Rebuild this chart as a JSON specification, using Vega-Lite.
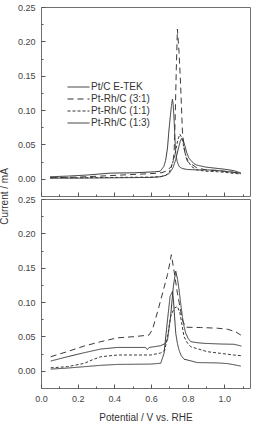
{
  "$schema": "https://vega.github.io/schema/vega-lite/v6.json",
  "padding": {"left": -2, "top": 2, "right": 5, "bottom": 0},
  "spacing": 3,
  "bounds": "flush",
  "config": {
    "font": "Liberation Sans",
    "view": {"stroke": "#707070", "strokeWidth": 1},
    "axis": {
      "domain": false, "grid": false, "labelOverlap": false, "tickCount": 50,
      "labelFont": "Liberation Sans", "labelFontSize": 9, "labelColor": "#444444",
      "tickColor": "#555555", "tickWidth": 1,
      "titleFont": "Liberation Sans", "titleFontSize": 10, "titleFontWeight": "normal", "titleColor": "#333333"
    },
    "legend": {
      "symbolType": "stroke", "symbolSize": 484, "symbolStrokeWidth": 1, "symbolStrokeColor": "#333333",
      "labelFont": "Liberation Sans", "labelFontSize": 10, "labelColor": "#333333", "labelOffset": 1,
      "padding": 0, "rowPadding": 2, "clipHeight": 10
    }
  },
  "datasets": {
    "cv": [
      {"panel": "a", "series": "Pt/C E-TEK", "x": 0.05, "y": 0.003},
      {"panel": "a", "series": "Pt/C E-TEK", "x": 0.15, "y": 0.004},
      {"panel": "a", "series": "Pt/C E-TEK", "x": 0.25, "y": 0.0055},
      {"panel": "a", "series": "Pt/C E-TEK", "x": 0.38, "y": 0.0083},
      {"panel": "a", "series": "Pt/C E-TEK", "x": 0.51, "y": 0.0088},
      {"panel": "a", "series": "Pt/C E-TEK", "x": 0.62, "y": 0.0102},
      {"panel": "a", "series": "Pt/C E-TEK", "x": 0.65, "y": 0.011},
      {"panel": "a", "series": "Pt/C E-TEK", "x": 0.67, "y": 0.018},
      {"panel": "a", "series": "Pt/C E-TEK", "x": 0.68, "y": 0.027},
      {"panel": "a", "series": "Pt/C E-TEK", "x": 0.69, "y": 0.045},
      {"panel": "a", "series": "Pt/C E-TEK", "x": 0.698, "y": 0.071},
      {"panel": "a", "series": "Pt/C E-TEK", "x": 0.705, "y": 0.09},
      {"panel": "a", "series": "Pt/C E-TEK", "x": 0.711, "y": 0.105},
      {"panel": "a", "series": "Pt/C E-TEK", "x": 0.717, "y": 0.116},
      {"panel": "a", "series": "Pt/C E-TEK", "x": 0.721, "y": 0.108},
      {"panel": "a", "series": "Pt/C E-TEK", "x": 0.726, "y": 0.086},
      {"panel": "a", "series": "Pt/C E-TEK", "x": 0.73, "y": 0.062},
      {"panel": "a", "series": "Pt/C E-TEK", "x": 0.735, "y": 0.037},
      {"panel": "a", "series": "Pt/C E-TEK", "x": 0.743, "y": 0.025},
      {"panel": "a", "series": "Pt/C E-TEK", "x": 0.753, "y": 0.018},
      {"panel": "a", "series": "Pt/C E-TEK", "x": 0.77, "y": 0.015},
      {"panel": "a", "series": "Pt/C E-TEK", "x": 0.8, "y": 0.0135},
      {"panel": "a", "series": "Pt/C E-TEK", "x": 0.85, "y": 0.013},
      {"panel": "a", "series": "Pt/C E-TEK", "x": 0.9, "y": 0.013},
      {"panel": "a", "series": "Pt/C E-TEK", "x": 0.95, "y": 0.0125},
      {"panel": "a", "series": "Pt/C E-TEK", "x": 1.0, "y": 0.011},
      {"panel": "a", "series": "Pt/C E-TEK", "x": 1.05, "y": 0.0095},
      {"panel": "a", "series": "Pt/C E-TEK", "x": 1.09, "y": 0.008},

      {"panel": "a", "series": "Pt-Rh/C (3:1)", "x": 0.05, "y": 0.0015},
      {"panel": "a", "series": "Pt-Rh/C (3:1)", "x": 0.2, "y": 0.0025},
      {"panel": "a", "series": "Pt-Rh/C (3:1)", "x": 0.326, "y": 0.004},
      {"panel": "a", "series": "Pt-Rh/C (3:1)", "x": 0.507, "y": 0.0064},
      {"panel": "a", "series": "Pt-Rh/C (3:1)", "x": 0.617, "y": 0.0078},
      {"panel": "a", "series": "Pt-Rh/C (3:1)", "x": 0.66, "y": 0.009},
      {"panel": "a", "series": "Pt-Rh/C (3:1)", "x": 0.69, "y": 0.012},
      {"panel": "a", "series": "Pt-Rh/C (3:1)", "x": 0.71, "y": 0.018},
      {"panel": "a", "series": "Pt-Rh/C (3:1)", "x": 0.72, "y": 0.025},
      {"panel": "a", "series": "Pt-Rh/C (3:1)", "x": 0.726, "y": 0.037},
      {"panel": "a", "series": "Pt-Rh/C (3:1)", "x": 0.732, "y": 0.09},
      {"panel": "a", "series": "Pt-Rh/C (3:1)", "x": 0.738, "y": 0.16},
      {"panel": "a", "series": "Pt-Rh/C (3:1)", "x": 0.744, "y": 0.218},
      {"panel": "a", "series": "Pt-Rh/C (3:1)", "x": 0.753, "y": 0.184},
      {"panel": "a", "series": "Pt-Rh/C (3:1)", "x": 0.762, "y": 0.134},
      {"panel": "a", "series": "Pt-Rh/C (3:1)", "x": 0.771, "y": 0.071},
      {"panel": "a", "series": "Pt-Rh/C (3:1)", "x": 0.78, "y": 0.045},
      {"panel": "a", "series": "Pt-Rh/C (3:1)", "x": 0.79, "y": 0.032},
      {"panel": "a", "series": "Pt-Rh/C (3:1)", "x": 0.8, "y": 0.025},
      {"panel": "a", "series": "Pt-Rh/C (3:1)", "x": 0.85, "y": 0.016},
      {"panel": "a", "series": "Pt-Rh/C (3:1)", "x": 0.9, "y": 0.013},
      {"panel": "a", "series": "Pt-Rh/C (3:1)", "x": 0.95, "y": 0.012},
      {"panel": "a", "series": "Pt-Rh/C (3:1)", "x": 1.0, "y": 0.011},
      {"panel": "a", "series": "Pt-Rh/C (3:1)", "x": 1.05, "y": 0.0095},
      {"panel": "a", "series": "Pt-Rh/C (3:1)", "x": 1.09, "y": 0.008},

      {"panel": "a", "series": "Pt-Rh/C (1:1)", "x": 0.05, "y": 0.0015},
      {"panel": "a", "series": "Pt-Rh/C (1:1)", "x": 0.2, "y": 0.0015},
      {"panel": "a", "series": "Pt-Rh/C (1:1)", "x": 0.4, "y": 0.002},
      {"panel": "a", "series": "Pt-Rh/C (1:1)", "x": 0.6, "y": 0.0025},
      {"panel": "a", "series": "Pt-Rh/C (1:1)", "x": 0.65, "y": 0.003},
      {"panel": "a", "series": "Pt-Rh/C (1:1)", "x": 0.68, "y": 0.005},
      {"panel": "a", "series": "Pt-Rh/C (1:1)", "x": 0.7, "y": 0.01},
      {"panel": "a", "series": "Pt-Rh/C (1:1)", "x": 0.715, "y": 0.02},
      {"panel": "a", "series": "Pt-Rh/C (1:1)", "x": 0.73, "y": 0.035},
      {"panel": "a", "series": "Pt-Rh/C (1:1)", "x": 0.745, "y": 0.055},
      {"panel": "a", "series": "Pt-Rh/C (1:1)", "x": 0.757, "y": 0.065},
      {"panel": "a", "series": "Pt-Rh/C (1:1)", "x": 0.768, "y": 0.06},
      {"panel": "a", "series": "Pt-Rh/C (1:1)", "x": 0.78, "y": 0.045},
      {"panel": "a", "series": "Pt-Rh/C (1:1)", "x": 0.79, "y": 0.034},
      {"panel": "a", "series": "Pt-Rh/C (1:1)", "x": 0.8, "y": 0.027},
      {"panel": "a", "series": "Pt-Rh/C (1:1)", "x": 0.82, "y": 0.018},
      {"panel": "a", "series": "Pt-Rh/C (1:1)", "x": 0.85, "y": 0.013},
      {"panel": "a", "series": "Pt-Rh/C (1:1)", "x": 0.9, "y": 0.011},
      {"panel": "a", "series": "Pt-Rh/C (1:1)", "x": 0.95, "y": 0.0105},
      {"panel": "a", "series": "Pt-Rh/C (1:1)", "x": 1.0, "y": 0.0095},
      {"panel": "a", "series": "Pt-Rh/C (1:1)", "x": 1.05, "y": 0.008},
      {"panel": "a", "series": "Pt-Rh/C (1:1)", "x": 1.09, "y": 0.007},

      {"panel": "a", "series": "Pt-Rh/C (1:3)", "x": 0.05, "y": 0.001},
      {"panel": "a", "series": "Pt-Rh/C (1:3)", "x": 0.2, "y": 0.001},
      {"panel": "a", "series": "Pt-Rh/C (1:3)", "x": 0.4, "y": 0.0015},
      {"panel": "a", "series": "Pt-Rh/C (1:3)", "x": 0.6, "y": 0.002},
      {"panel": "a", "series": "Pt-Rh/C (1:3)", "x": 0.65, "y": 0.003},
      {"panel": "a", "series": "Pt-Rh/C (1:3)", "x": 0.68, "y": 0.005},
      {"panel": "a", "series": "Pt-Rh/C (1:3)", "x": 0.7, "y": 0.008},
      {"panel": "a", "series": "Pt-Rh/C (1:3)", "x": 0.72, "y": 0.016},
      {"panel": "a", "series": "Pt-Rh/C (1:3)", "x": 0.735, "y": 0.028},
      {"panel": "a", "series": "Pt-Rh/C (1:3)", "x": 0.75, "y": 0.045},
      {"panel": "a", "series": "Pt-Rh/C (1:3)", "x": 0.76, "y": 0.055},
      {"panel": "a", "series": "Pt-Rh/C (1:3)", "x": 0.768, "y": 0.059},
      {"panel": "a", "series": "Pt-Rh/C (1:3)", "x": 0.775, "y": 0.057},
      {"panel": "a", "series": "Pt-Rh/C (1:3)", "x": 0.785, "y": 0.048},
      {"panel": "a", "series": "Pt-Rh/C (1:3)", "x": 0.795, "y": 0.038},
      {"panel": "a", "series": "Pt-Rh/C (1:3)", "x": 0.805, "y": 0.031},
      {"panel": "a", "series": "Pt-Rh/C (1:3)", "x": 0.817, "y": 0.027},
      {"panel": "a", "series": "Pt-Rh/C (1:3)", "x": 0.835, "y": 0.022},
      {"panel": "a", "series": "Pt-Rh/C (1:3)", "x": 0.85, "y": 0.02},
      {"panel": "a", "series": "Pt-Rh/C (1:3)", "x": 0.9, "y": 0.017},
      {"panel": "a", "series": "Pt-Rh/C (1:3)", "x": 0.95, "y": 0.0155},
      {"panel": "a", "series": "Pt-Rh/C (1:3)", "x": 1.0, "y": 0.014},
      {"panel": "a", "series": "Pt-Rh/C (1:3)", "x": 1.05, "y": 0.012},
      {"panel": "a", "series": "Pt-Rh/C (1:3)", "x": 1.09, "y": 0.0085},

      {"panel": "b", "series": "Pt/C E-TEK", "x": 0.053, "y": 0.0025},
      {"panel": "b", "series": "Pt/C E-TEK", "x": 0.144, "y": 0.004},
      {"panel": "b", "series": "Pt/C E-TEK", "x": 0.235, "y": 0.006},
      {"panel": "b", "series": "Pt/C E-TEK", "x": 0.326, "y": 0.008},
      {"panel": "b", "series": "Pt/C E-TEK", "x": 0.417, "y": 0.0093},
      {"panel": "b", "series": "Pt/C E-TEK", "x": 0.599, "y": 0.0098},
      {"panel": "b", "series": "Pt/C E-TEK", "x": 0.653, "y": 0.011},
      {"panel": "b", "series": "Pt/C E-TEK", "x": 0.671, "y": 0.0254},
      {"panel": "b", "series": "Pt/C E-TEK", "x": 0.69, "y": 0.074},
      {"panel": "b", "series": "Pt/C E-TEK", "x": 0.704, "y": 0.108},
      {"panel": "b", "series": "Pt/C E-TEK", "x": 0.717, "y": 0.1155},
      {"panel": "b", "series": "Pt/C E-TEK", "x": 0.722, "y": 0.105},
      {"panel": "b", "series": "Pt/C E-TEK", "x": 0.726, "y": 0.0887},
      {"panel": "b", "series": "Pt/C E-TEK", "x": 0.735, "y": 0.0547},
      {"panel": "b", "series": "Pt/C E-TEK", "x": 0.744, "y": 0.04},
      {"panel": "b", "series": "Pt/C E-TEK", "x": 0.753, "y": 0.03},
      {"panel": "b", "series": "Pt/C E-TEK", "x": 0.765, "y": 0.022},
      {"panel": "b", "series": "Pt/C E-TEK", "x": 0.78, "y": 0.017},
      {"panel": "b", "series": "Pt/C E-TEK", "x": 0.853, "y": 0.012},
      {"panel": "b", "series": "Pt/C E-TEK", "x": 0.962, "y": 0.0115},
      {"panel": "b", "series": "Pt/C E-TEK", "x": 1.017, "y": 0.0105},
      {"panel": "b", "series": "Pt/C E-TEK", "x": 1.06, "y": 0.0085},
      {"panel": "b", "series": "Pt/C E-TEK", "x": 1.09, "y": 0.0068},

      {"panel": "b", "series": "Pt-Rh/C (3:1)", "x": 0.053, "y": 0.0205},
      {"panel": "b", "series": "Pt-Rh/C (3:1)", "x": 0.144, "y": 0.028},
      {"panel": "b", "series": "Pt-Rh/C (3:1)", "x": 0.235, "y": 0.036},
      {"panel": "b", "series": "Pt-Rh/C (3:1)", "x": 0.326, "y": 0.0424},
      {"panel": "b", "series": "Pt-Rh/C (3:1)", "x": 0.417, "y": 0.048},
      {"panel": "b", "series": "Pt-Rh/C (3:1)", "x": 0.507, "y": 0.0497},
      {"panel": "b", "series": "Pt-Rh/C (3:1)", "x": 0.589, "y": 0.052},
      {"panel": "b", "series": "Pt-Rh/C (3:1)", "x": 0.608, "y": 0.06},
      {"panel": "b", "series": "Pt-Rh/C (3:1)", "x": 0.64, "y": 0.09},
      {"panel": "b", "series": "Pt-Rh/C (3:1)", "x": 0.67, "y": 0.12},
      {"panel": "b", "series": "Pt-Rh/C (3:1)", "x": 0.69, "y": 0.14},
      {"panel": "b", "series": "Pt-Rh/C (3:1)", "x": 0.705, "y": 0.16},
      {"panel": "b", "series": "Pt-Rh/C (3:1)", "x": 0.711, "y": 0.169},
      {"panel": "b", "series": "Pt-Rh/C (3:1)", "x": 0.726, "y": 0.145},
      {"panel": "b", "series": "Pt-Rh/C (3:1)", "x": 0.744, "y": 0.113},
      {"panel": "b", "series": "Pt-Rh/C (3:1)", "x": 0.771, "y": 0.074},
      {"panel": "b", "series": "Pt-Rh/C (3:1)", "x": 0.789, "y": 0.0634},
      {"panel": "b", "series": "Pt-Rh/C (3:1)", "x": 0.871, "y": 0.063},
      {"panel": "b", "series": "Pt-Rh/C (3:1)", "x": 0.962, "y": 0.062},
      {"panel": "b", "series": "Pt-Rh/C (3:1)", "x": 1.017, "y": 0.0605},
      {"panel": "b", "series": "Pt-Rh/C (3:1)", "x": 1.06, "y": 0.057},
      {"panel": "b", "series": "Pt-Rh/C (3:1)", "x": 1.09, "y": 0.052},

      {"panel": "b", "series": "Pt-Rh/C (1:1)", "x": 0.053, "y": 0.0044},
      {"panel": "b", "series": "Pt-Rh/C (1:1)", "x": 0.144, "y": 0.006},
      {"panel": "b", "series": "Pt-Rh/C (1:1)", "x": 0.235, "y": 0.0108},
      {"panel": "b", "series": "Pt-Rh/C (1:1)", "x": 0.28, "y": 0.016},
      {"panel": "b", "series": "Pt-Rh/C (1:1)", "x": 0.326, "y": 0.0205},
      {"panel": "b", "series": "Pt-Rh/C (1:1)", "x": 0.417, "y": 0.023},
      {"panel": "b", "series": "Pt-Rh/C (1:1)", "x": 0.599, "y": 0.023},
      {"panel": "b", "series": "Pt-Rh/C (1:1)", "x": 0.653, "y": 0.026},
      {"panel": "b", "series": "Pt-Rh/C (1:1)", "x": 0.675, "y": 0.03},
      {"panel": "b", "series": "Pt-Rh/C (1:1)", "x": 0.69, "y": 0.0497},
      {"panel": "b", "series": "Pt-Rh/C (1:1)", "x": 0.707, "y": 0.079},
      {"panel": "b", "series": "Pt-Rh/C (1:1)", "x": 0.726, "y": 0.091},
      {"panel": "b", "series": "Pt-Rh/C (1:1)", "x": 0.744, "y": 0.0936},
      {"panel": "b", "series": "Pt-Rh/C (1:1)", "x": 0.758, "y": 0.084},
      {"panel": "b", "series": "Pt-Rh/C (1:1)", "x": 0.78, "y": 0.0497},
      {"panel": "b", "series": "Pt-Rh/C (1:1)", "x": 0.8, "y": 0.04},
      {"panel": "b", "series": "Pt-Rh/C (1:1)", "x": 0.817, "y": 0.035},
      {"panel": "b", "series": "Pt-Rh/C (1:1)", "x": 0.908, "y": 0.0278},
      {"panel": "b", "series": "Pt-Rh/C (1:1)", "x": 0.98, "y": 0.0254},
      {"panel": "b", "series": "Pt-Rh/C (1:1)", "x": 1.05, "y": 0.023},
      {"panel": "b", "series": "Pt-Rh/C (1:1)", "x": 1.09, "y": 0.022},

      {"panel": "b", "series": "Pt-Rh/C (1:3)", "x": 0.053, "y": 0.0142},
      {"panel": "b", "series": "Pt-Rh/C (1:3)", "x": 0.144, "y": 0.0205},
      {"panel": "b", "series": "Pt-Rh/C (1:3)", "x": 0.235, "y": 0.0263},
      {"panel": "b", "series": "Pt-Rh/C (1:3)", "x": 0.326, "y": 0.0317},
      {"panel": "b", "series": "Pt-Rh/C (1:3)", "x": 0.417, "y": 0.034},
      {"panel": "b", "series": "Pt-Rh/C (1:3)", "x": 0.507, "y": 0.034},
      {"panel": "b", "series": "Pt-Rh/C (1:3)", "x": 0.57, "y": 0.034},
      {"panel": "b", "series": "Pt-Rh/C (1:3)", "x": 0.58, "y": 0.031},
      {"panel": "b", "series": "Pt-Rh/C (1:3)", "x": 0.59, "y": 0.034},
      {"panel": "b", "series": "Pt-Rh/C (1:3)", "x": 0.616, "y": 0.035},
      {"panel": "b", "series": "Pt-Rh/C (1:3)", "x": 0.653, "y": 0.0366},
      {"panel": "b", "series": "Pt-Rh/C (1:3)", "x": 0.68, "y": 0.04},
      {"panel": "b", "series": "Pt-Rh/C (1:3)", "x": 0.69, "y": 0.045},
      {"panel": "b", "series": "Pt-Rh/C (1:3)", "x": 0.707, "y": 0.079},
      {"panel": "b", "series": "Pt-Rh/C (1:3)", "x": 0.722, "y": 0.123},
      {"panel": "b", "series": "Pt-Rh/C (1:3)", "x": 0.735, "y": 0.145},
      {"panel": "b", "series": "Pt-Rh/C (1:3)", "x": 0.745, "y": 0.133},
      {"panel": "b", "series": "Pt-Rh/C (1:3)", "x": 0.753, "y": 0.118},
      {"panel": "b", "series": "Pt-Rh/C (1:3)", "x": 0.762, "y": 0.098},
      {"panel": "b", "series": "Pt-Rh/C (1:3)", "x": 0.771, "y": 0.079},
      {"panel": "b", "series": "Pt-Rh/C (1:3)", "x": 0.78, "y": 0.065},
      {"panel": "b", "series": "Pt-Rh/C (1:3)", "x": 0.789, "y": 0.055},
      {"panel": "b", "series": "Pt-Rh/C (1:3)", "x": 0.803, "y": 0.047},
      {"panel": "b", "series": "Pt-Rh/C (1:3)", "x": 0.817, "y": 0.0424},
      {"panel": "b", "series": "Pt-Rh/C (1:3)", "x": 0.85, "y": 0.041},
      {"panel": "b", "series": "Pt-Rh/C (1:3)", "x": 0.889, "y": 0.04},
      {"panel": "b", "series": "Pt-Rh/C (1:3)", "x": 0.98, "y": 0.039},
      {"panel": "b", "series": "Pt-Rh/C (1:3)", "x": 1.053, "y": 0.0386},
      {"panel": "b", "series": "Pt-Rh/C (1:3)", "x": 1.093, "y": 0.036}
    ]
  },
  "resolve": {"scale": {"strokeDash": "independent"}, "legend": {"strokeDash": "independent"}},
  "vconcat": [
    {
      "width": 209, "height": 189,
      "layer": [
        {
          "data": {"name": "cv"},
          "transform": [{"filter": "datum.panel == 'a'"}],
          "mark": {"type": "line", "color": "#3a3a3a", "strokeWidth": 1, "clip": true},
          "encoding": {
            "x": {"field": "x", "type": "quantitative",
              "scale": {"domain": [0, 1.14], "nice": false, "zero": false},
              "axis": {"values": [0, 0.1, 0.2, 0.3, 0.4, 0.5, 0.6, 0.7, 0.8, 0.9, 1.0, 1.1], "labels": false, "title": null, "tickCount": 50,
                "tickSize": {"condition": {"test": "round(datum.value*10) % 2 == 0", "value": -4}, "value": -2}}},
            "y": {"field": "y", "type": "quantitative",
              "scale": {"domain": [-0.025, 0.25], "nice": false, "zero": false},
              "axis": {"values": [0, 0.025, 0.05, 0.075, 0.1, 0.125, 0.15, 0.175, 0.2, 0.225, 0.25], "tickCount": 50,
                "labelExpr": "round(datum.value*1000) % 50 == 0 ? format(datum.value, '.2f') : ''",
                "labelOverlap": false, "labelBound": false,
                "tickSize": {"condition": {"test": "round(datum.value*1000) % 50 == 0", "value": -4}, "value": -2},
                "labelPadding": 10,
                "title": "Current / mA", "titleAnchor": "start", "titleAlign": "center", "titlePadding": 8}},
            "strokeDash": {"field": "series", "type": "nominal",
              "scale": {"domain": ["Pt/C E-TEK", "Pt-Rh/C (3:1)", "Pt-Rh/C (1:1)", "Pt-Rh/C (1:3)"],
                        "range": [[1, 0], [6, 4], [3, 2], [1, 0]]},
              "legend": {"title": null, "orient": "none", "legendX": 26, "legendY": 75}}
          }
        },
        {
          "mark": {"type": "text", "text": "(a)", "fontSize": 13, "color": "#333333", "align": "center", "baseline": "middle"},
          "encoding": {
            "x": {"datum": 0.107, "type": "quantitative"},
            "y": {"datum": 0.222, "type": "quantitative"}
          }
        }
      ]
    },
    {
      "width": 209, "height": 189,
      "layer": [
        {
          "data": {"name": "cv"},
          "transform": [{"filter": "datum.panel == 'b'"}],
          "mark": {"type": "line", "color": "#3a3a3a", "strokeWidth": 1, "clip": true},
          "encoding": {
            "x": {"field": "x", "type": "quantitative",
              "scale": {"domain": [0, 1.14], "nice": false, "zero": false},
              "axis": {"values": [0, 0.1, 0.2, 0.3, 0.4, 0.5, 0.6, 0.7, 0.8, 0.9, 1.0, 1.1], "tickCount": 50,
                "labelExpr": "round(datum.value*10) % 2 == 0 ? format(datum.value, '.1f') : ''",
                "labelOverlap": false,
                "tickSize": {"condition": {"test": "round(datum.value*10) % 2 == 0", "value": -4}, "value": -2},
                "labelPadding": 10, "labelFlush": false,
                "title": "Potential / V vs. RHE", "titlePadding": 7}},
            "y": {"field": "y", "type": "quantitative",
              "scale": {"domain": [-0.025, 0.25], "nice": false, "zero": false},
              "axis": {"values": [0, 0.025, 0.05, 0.075, 0.1, 0.125, 0.15, 0.175, 0.2, 0.225, 0.25], "tickCount": 50,
                "labelExpr": "round(datum.value*1000) % 50 == 0 ? format(datum.value, '.2f') : ''",
                "labelOverlap": false, "labelBound": false,
                "tickSize": {"condition": {"test": "round(datum.value*1000) % 50 == 0", "value": -4}, "value": -2},
                "labelPadding": 10, "title": null}},
            "strokeDash": {"field": "series", "type": "nominal",
              "scale": {"domain": ["Pt/C E-TEK", "Pt-Rh/C (3:1)", "Pt-Rh/C (1:1)", "Pt-Rh/C (1:3)"],
                        "range": [[1, 0], [6, 4], [3, 2], [1, 0]]},
              "legend": null}
          }
        },
        {
          "mark": {"type": "text", "text": "(b)", "fontSize": 13, "color": "#333333", "align": "center", "baseline": "middle"},
          "encoding": {
            "x": {"datum": 0.107, "type": "quantitative"},
            "y": {"datum": 0.222, "type": "quantitative"}
          }
        }
      ]
    }
  ]
}
